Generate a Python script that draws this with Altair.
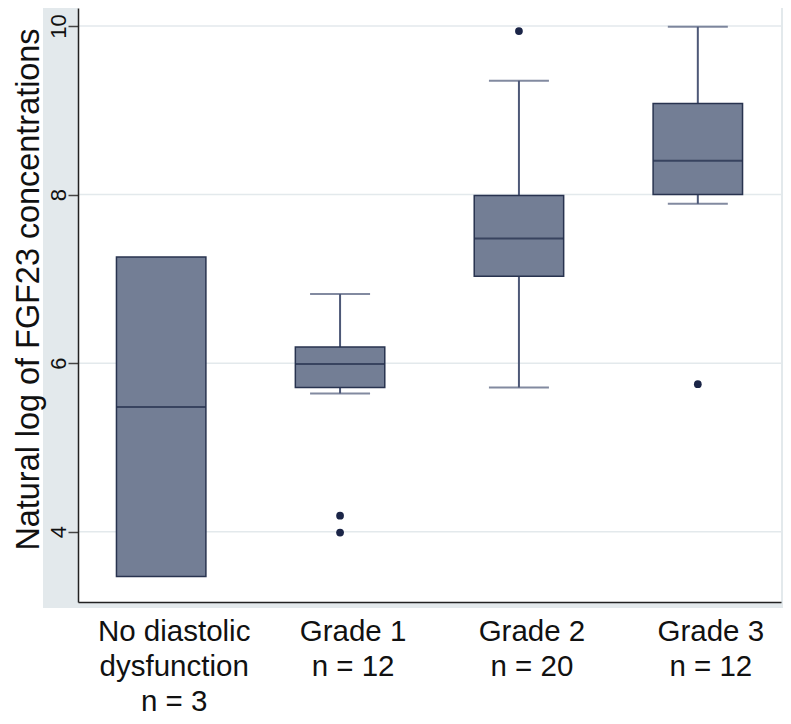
import altair as alt
import pandas as pd

# ---- data ----
categories = ["No diastolic|dysfunction|n = 3", "Grade 1|n = 12", "Grade 2|n = 20", "Grade 3|n = 12"]
whisker_low = [3.47, 5.64, 5.71, 7.89]
q1 = [3.47, 5.71, 7.03, 8.00]
median = [5.48, 5.99, 7.48, 8.40]
q3 = [7.26, 6.19, 7.99, 9.08]
whisker_high = [7.26, 6.82, 9.35, 9.99]
outlier_groups = ["Grade 1|n = 12", "Grade 1|n = 12", "Grade 2|n = 20", "Grade 3|n = 12"]
outlier_values = [4.19, 3.99, 9.94, 5.75]
y_ticks = [4, 6, 8, 10]
y_title = "Natural log of FGF23 concentrations"

# ---- tables ----
box_df = pd.DataFrame({"cat": categories, "lo": whisker_low, "q1": q1,
                       "med": median, "q3": q3, "hi": whisker_high})
cap_rows = []
for c, lo, a, b, hi in zip(categories, whisker_low, q1, q3, whisker_high):
    if lo < a:
        cap_rows.append({"cat": c, "v": lo})
    if hi > b:
        cap_rows.append({"cat": c, "v": hi})
cap_df = pd.DataFrame(cap_rows)
out_df = pd.DataFrame({"cat": outlier_groups, "v": outlier_values})
grid_df = pd.DataFrame({"v": y_ticks})
one = pd.DataFrame({"a": [0]})

FONT = "Liberation Sans"
W, H = 703, 594

yscale = alt.Scale(domain=[3.166, 10.2135], nice=False, zero=False)
yaxis = alt.Axis(values=y_ticks, grid=False, domainColor="#222222", domainWidth=1.5,
                 tickColor="#444444", tickSize=10, tickWidth=1.5,
                 labelAngle=270, labelAlign="center", labelBaseline="alphabetic",
                 labelPadding=3, labelFontSize=22, labelFont=FONT, labelColor="#111111",
                 labelFlush=False, labelOverlap=False,
                 title=y_title, titleFontSize=32.4, titleFont=FONT, titleFontWeight="normal",
                 titleColor="#111111", titleAngle=270, titleX=-40, titleY=281,
                 titleAlign="center", titleBaseline="alphabetic", zindex=1)
xaxis = alt.Axis(labelExpr="split(datum.label, '|')", ticks=False, tickSize=0,
                 domainColor="#222222", domainWidth=1.5, grid=False,
                 labelFontSize=29.5, labelLineHeight=35, labelBaseline="top",
                 labelPadding=15, labelOffset=13, labelAngle=0, labelLimit=0,
                 labelAlign="center", labelFont=FONT, labelColor="#111111",
                 title=None, zindex=1)

X = alt.X("cat:N", sort=categories,
          scale=alt.Scale(paddingInner=0.5, paddingOuter=0.215), axis=xaxis)

def Y(field):
    return alt.Y(field, scale=yscale, axis=yaxis)

bg = alt.Chart(one).mark_rect(fill="#e3e9ec").encode(
    x=alt.value(-35), x2=alt.value(W + 2), y=alt.value(0), y2=alt.value(H + 6))
white = alt.Chart(one).mark_rect(fill="white").encode(
    x=alt.value(0), x2=alt.value(W), y=alt.value(0), y2=alt.value(H))

grid = alt.Chart(grid_df).mark_rule(color="#e3e9ec", strokeWidth=1.5).encode(y=Y("v:Q"))

whisk = alt.Chart(box_df).mark_rule(color="#4d5877", strokeWidth=2).encode(
    x=X, y=Y("lo:Q"), y2="hi:Q")
caps = alt.Chart(cap_df).mark_tick(size=60, thickness=2, color="#4d5877").encode(
    x=X, y=Y("v:Q"))
box = alt.Chart(box_df).mark_bar(fill="#737e95", stroke="#28334f", strokeWidth=1.5).encode(
    x=X, y=Y("q1:Q"), y2="q3:Q")
med = alt.Chart(box_df).mark_tick(size=89, thickness=2, color="#202b48").encode(
    x=X, y=Y("med:Q"))
outl = alt.Chart(out_df).mark_circle(size=60, color="#1b2547", opacity=1).encode(
    x=X, y=Y("v:Q"))

chart = alt.layer(bg, white, grid, whisk, caps, box, med, outl).properties(
    width=W, height=H,
    autosize=alt.AutoSizeParams(type="none"),
    padding={"left": 70, "top": 0, "right": 2, "bottom": 114},
    background="white",
).configure_view(stroke=None)

chart.save("out.html", embed_options={"renderer": "svg", "actions": False})
